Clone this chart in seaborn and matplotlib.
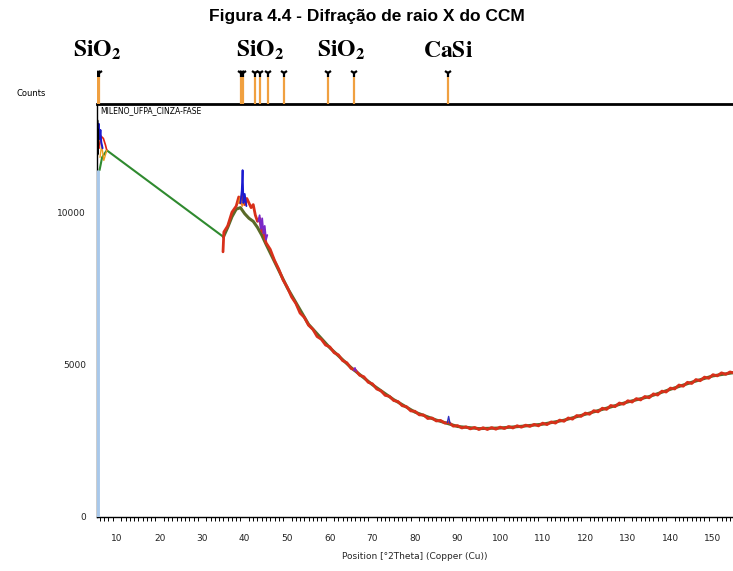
import matplotlib
matplotlib.use('Agg')
import matplotlib.pyplot as plt
import matplotlib.transforms as mtransforms
from matplotlib.ticker import MultipleLocator
import seaborn as sns
import numpy as np
import pandas as pd

# ---- Data ----------------------------------------------------------------####

title = 'Figura 4.4 - Difração de raio X do CCM'

# main measured scan (red)
red_x = [34.9, 35.1, 36, 37, 38, 38.6, 39, 39.5, 40, 40.5, 41, 41.5, 42, 42.5, 43, 43.5, 44, 44.5, 45,
         46, 47, 48, 49, 50, 51, 52, 53, 54, 55, 56, 57, 58, 59, 60, 61, 62, 63, 64, 65, 66, 67, 68, 69,
         70, 71, 72, 73, 74, 75, 76, 77, 78, 79, 80, 81, 82, 83, 84, 85, 86, 87, 88, 89, 90, 91, 92, 93,
         94, 95, 96, 97, 98, 99, 100, 101, 102, 103, 104, 105, 106, 107, 108, 109, 110, 111, 112, 113,
         114, 115, 116, 117, 118, 119, 120, 121, 122, 123, 124, 125, 126, 127, 128, 129, 130, 131, 132,
         133, 134, 135, 136, 137, 138, 139, 140, 141, 142, 143, 144, 145, 146, 147, 148, 149, 150, 151,
         152, 153, 154, 155]
red_y = [8700, 9350, 9550, 10000, 10200, 10500, 10300, 10600, 10250, 10450, 10300, 10150, 10250, 9900,
         9700, 9800, 9400, 9300, 9000,
         8780, 8420, 8130, 7780, 7540, 7220, 7010, 6690, 6550, 6290, 6160, 5920, 5830, 5640, 5580, 5390,
         5320, 5130, 5060, 4870, 4820, 4650, 4600, 4420, 4370, 4200, 4140, 3990, 3960, 3820, 3790, 3650,
         3620, 3480, 3470, 3350, 3350, 3230, 3250, 3150, 3170, 3080, 3100, 2980, 3000, 2920, 2960, 2890,
         2940, 2870, 2930, 2870, 2935, 2880, 2950, 2900, 2970, 2920, 2995, 2945, 3015, 2970, 3040, 2990,
         3080, 3030, 3120, 3080, 3180, 3140, 3250, 3210, 3330, 3300, 3410, 3370, 3490, 3450, 3570, 3530,
         3660, 3620, 3740, 3700, 3815, 3770, 3885, 3840, 3955, 3910, 4040, 4000, 4130, 4100, 4230, 4200,
         4330, 4290, 4420, 4380, 4510, 4470, 4590, 4550, 4670, 4630, 4730, 4680, 4760, 4720]

# calculated / background profile (green): straight bridge and curve part
green_seg_x = [5.9, 6.5, 7.6, 35.0]
green_seg_y = [11380, 11800, 12030, 9190]
green_x = [35.0, 36, 37, 38, 39, 40, 41, 42, 43, 44, 45, 50, 55, 60, 65, 70, 75, 80, 85,
           90, 95, 100, 105, 110, 115, 120, 125, 130, 135, 140, 145, 150, 155]
green_y = [9190, 9500, 9850, 10100, 10150, 9950, 9800, 9700, 9500, 9250, 8950, 7520,
           6320, 5550, 4900, 4340, 3850, 3440, 3180, 2970, 2900, 2920, 2975, 3045, 3175, 3370, 3570, 3775,
           3950, 4190, 4420, 4630, 4740]

# start of scan
start_red_x = [5.8, 6.2, 6.8, 7.3, 7.6]
start_red_y = [12100, 12500, 12420, 12200, 12030]
start_orange_x = [6.0, 6.4, 6.9, 7.6]
start_orange_y = [11800, 12200, 11700, 12030]
start_blue_x = [5.5, 5.7, 5.9, 6.1, 6.3, 6.6]
start_blue_y = [12300, 12900, 12400, 12700, 12300, 12100]
start_black_x = [5.35, 5.35, 5.45, 5.5]
start_black_y = [13000, 11900, 12700, 12200]

# peak detail
blue_x = [39.0, 39.3, 39.5, 39.7, 40.0, 40.4]
blue_y = [10300, 10700, 11380, 10300, 10600, 10200]
purple_x = [43.2, 43.5, 43.8, 44.1, 44.4, 44.7, 45.0, 45.3]
purple_y = [9700, 9900, 9450, 9800, 9300, 9550, 9100, 9250]
purple2_x = [65.6, 65.9, 66.2]
purple2_y = [4800, 4900, 4780]
purple3_x = [87.6, 87.9, 88.2]
purple3_y = [3100, 3300, 3080]
orange_x = [38.5, 39.0, 39.4, 40.0]
orange_y = [10300, 10500, 10200, 10400]

# reference pattern stick at low angle
ref_pos = 5.4
ref_height = 11400

# identified phase peak positions (top strip)
stick_pos = [5.3, 5.7, 39.2, 39.5, 42.3, 43.6, 45.4, 49.3, 59.6, 65.7, 87.8]
phase_labels = [r'$\mathbf{SiO_2}$', r'$\mathbf{SiO_2}$', r'$\mathbf{SiO_2}$', r'$\mathbf{CaSi}$']
phase_label_pos = [5.3, 43.6, 62.6, 87.8]

x_ticks = list(range(10, 151, 10))
y_ticks = [0, 5000, 10000]

# ---- Plot -------------------------------------------####

sns.set_style('white')
plt.rcParams['mathtext.fontset'] = 'stix'
plt.rcParams['font.family'] = ['DejaVu Sans']
plt.rcParams['text.color'] = 'black'

fig = plt.figure(figsize=(7.33, 5.71), dpi=100)
W, H = 733, 571

def fig_rect(x0, y0, x1, y1):
    return [x0 / W, 1 - y1 / H, (x1 - x0) / W, (y1 - y0) / H]

ax = fig.add_axes(fig_rect(97, 104, 733, 517))
ax_top = fig.add_axes(fig_rect(97, 60, 733, 104), sharex=ax)

# main traces
sns.lineplot(x=green_seg_x, y=green_seg_y, ax=ax, color='#2f8a2f', lw=1.5, sort=False, estimator=None)
sns.lineplot(x=green_x, y=green_y, ax=ax, color='#5a6a28', lw=2.2, sort=False, estimator=None)
sns.lineplot(x=red_x, y=red_y, ax=ax, color='#d8301a', lw=2.0, sort=False, estimator=None)
sns.lineplot(x=orange_x, y=orange_y, ax=ax, color='#f08020', lw=1.2, sort=False, estimator=None)
sns.lineplot(x=blue_x, y=blue_y, ax=ax, color='#1a1ad0', lw=1.3, sort=False, estimator=None)
sns.lineplot(x=purple_x, y=purple_y, ax=ax, color='#7a28c8', lw=1.3, sort=False, estimator=None)
sns.lineplot(x=purple2_x, y=purple2_y, ax=ax, color='#7a28c8', lw=1.0, sort=False, estimator=None)
sns.lineplot(x=purple3_x, y=purple3_y, ax=ax, color='#3030c0', lw=1.0, sort=False, estimator=None)
sns.lineplot(x=start_red_x, y=start_red_y, ax=ax, color='#e02010', lw=1.2, sort=False, estimator=None)
sns.lineplot(x=start_orange_x, y=start_orange_y, ax=ax, color='#f0a020', lw=1.0, sort=False, estimator=None)
sns.lineplot(x=start_blue_x, y=start_blue_y, ax=ax, color='#1a1ad0', lw=1.4, sort=False, estimator=None)
sns.lineplot(x=start_black_x, y=start_black_y, ax=ax, color='black', lw=2.0, sort=False, estimator=None)
ax.vlines(ref_pos, 0, ref_height, color='#a8c8ea', lw=3.5, zorder=5)

ax.set_xlim(5.3, 154.7)
ax.set_ylim(0, 13550)
ax.set_xticks(x_ticks)
ax.set_yticks(y_ticks)
ax.xaxis.set_minor_locator(MultipleLocator(1))
ax.tick_params(axis='both', which='major', direction='out', width=0.9, labelsize=6.5,
               colors='black', labelcolor='#222222')
ax.tick_params(axis='x', which='minor', direction='out', length=3, width=0.7, bottom=True, color='black')
ax.tick_params(axis='x', which='major', length=7, pad=5)
ax.tick_params(axis='y', which='major', length=5, pad=3)
for s in ['left', 'bottom']:
    ax.spines[s].set_color('black')
    ax.spines[s].set_linewidth(1.0)
ax.spines['top'].set_color('black')
ax.spines['top'].set_linewidth(2.0)
ax.spines['right'].set_visible(False)
ax.set_xlabel('Position [°2Theta] (Copper (Cu))', fontsize=6.5, labelpad=7)
ax.set_ylabel('')
ax.text(0.005, 0.995, 'MILENO_UFPA_CINZA-FASE', transform=ax.transAxes, fontsize=5.5,
        ha='left', va='top')

# top strip with phase sticks
ax_top.axis('off')
ax_top.set_ylim(0, 1)
ax_top.vlines(stick_pos, 0, 0.62, color='#f0a040', lw=1.6)
ax_top.plot(stick_pos, [0.7] * len(stick_pos), ls='none', marker='1', ms=6, mew=1.6, color='black')
trans = mtransforms.blended_transform_factory(ax_top.transData, fig.transFigure)
for lab, pos in zip(phase_labels, phase_label_pos):
    ax_top.text(pos, 1 - 50 / H, lab, transform=trans, fontsize=17, ha='center', va='center')

fig.text(31 / W, 1 - 93 / H, 'Counts', fontsize=6, ha='center', va='center')
fig.text(367 / W, 1 - 17 / H, title, fontsize=12.5, fontweight='bold', family='Liberation Sans',
         color='black', ha='center', va='center')

plt.savefig('out.png', dpi=100)
